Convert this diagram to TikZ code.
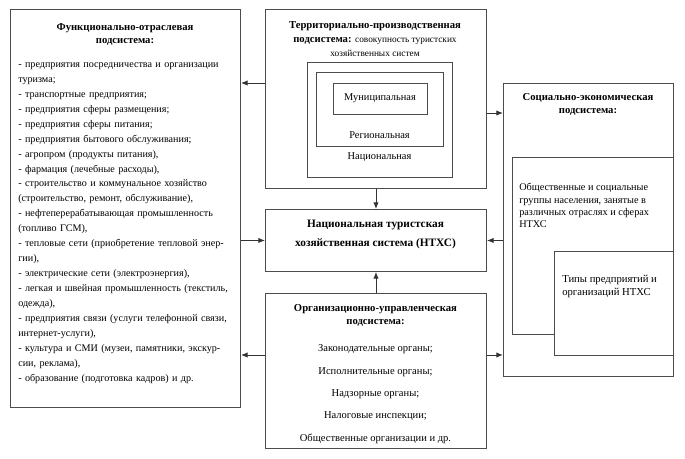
\documentclass[tikz,border=0pt]{standalone}
\usepackage{fontspec}
\setmainfont{Liberation Serif}
\usetikzlibrary{arrows.meta}
\newcommand{\jline}[1]{\leavevmode\hbox to\hsize{#1}}

\begin{document}
\begin{tikzpicture}[x=0.75pt,y=0.75pt,yscale=-1,xscale=1,
  box/.style={draw=black!70, line width=0.7pt, inner sep=0pt, anchor=north west},
  conn/.style={draw=black!80, line width=0.7pt, -{Latex[length=5pt,width=4pt]}},
  head/.style={font=\bfseries\fontsize{8}{9.75}\selectfont, align=center, inner sep=0pt, anchor=base},
  body/.style={font=\fontsize{7.6}{11.2}\selectfont, inner sep=0pt, anchor=base west},
  lvl/.style={font=\fontsize{7.8}{10}\selectfont, inner sep=0pt, anchor=base}]
\useasboundingbox (0,0) rectangle (685,459);

%Shape: Rectangle
\node [box, minimum width=172.5pt, minimum height=298.5pt] (func) at (10,9) {};
%Shape: Rectangle
\node [box, minimum width=165.75pt, minimum height=134.25pt] (terr) at (265,9) {};
%Shape: Rectangle
\node [box, minimum width=108.75pt, minimum height=86.25pt] (nat) at (307,62) {};
%Shape: Rectangle
\node [box, minimum width=95.25pt, minimum height=55.5pt] (reg) at (316,72) {};
%Shape: Rectangle
\node [box, minimum width=70.5pt, minimum height=23.25pt] (mun) at (333,83) {};
%Shape: Rectangle
\node [box, minimum width=165.75pt, minimum height=46.5pt] (ntxs) at (265,209) {};
%Shape: Rectangle
\node [box, minimum width=165.75pt, minimum height=116.25pt] (org) at (265,293) {};
%Shape: Rectangle
\node [box, minimum width=127.5pt, minimum height=219.75pt] (soc) at (503,83) {};
%Shape: Rectangle
\node [box, minimum width=120.75pt, minimum height=132.75pt] (grp) at (512,157) {};
%Shape: Rectangle
\node [box, fill=white, minimum width=89.25pt, minimum height=78pt] (typ) at (554,251) {};

%Straight Lines
\draw [conn] (terr.west |- 0,83) -- (func.east |- 0,83);
%Straight Lines
\draw [conn] (terr.east |- 0,113) -- (soc.west |- 0,113);
%Straight Lines
\draw [conn] (terr.south) -- (ntxs.north);
%Straight Lines
\draw [conn] (func.east |- ntxs.west) -- (ntxs.west);
%Straight Lines
\draw [conn] (soc.west |- ntxs.east) -- (ntxs.east);
%Straight Lines
\draw [conn] (org.north) -- (ntxs.south);
%Straight Lines
\draw [conn] (org.west |- 0,355) -- (func.east |- 0,355);
%Straight Lines
\draw [conn] (org.east |- 0,355) -- (soc.west |- 0,355);

% Text Node
\node [head] (funchead) at (125,43.5) {Функционально-отраслевая\\подсистема:};
% Text Node
\node [body, text width=160.5pt, align=left] (funclist) at (18,67.5) {- предприятия посредничества и организации\\
туризма;\\
- транспортные предприятия;\\
- предприятия сферы размещения;\\
- предприятия сферы питания;\\
- предприятия бытового обслуживания;\\
- агропром (продукты питания),\\
- фармация (лечебные расходы),\\
\jline{- строительство и коммунальное хозяйство}\\
(строительство, ремонт, обслуживание),\\
\jline{- нефтеперерабатывающая промышленность}\\
(топливо ГСМ),\\
\jline{- тепловые сети (приобретение тепловой энер-}\\
гии),\\
- электрические сети (электроэнергия),\\
\jline{- легкая и швейная промышленность (текстиль,}\\
одежда),\\
\jline{- предприятия связи (услуги телефонной связи,}\\
интернет-услуги),\\
\jline{- культура и СМИ (музеи, памятники, экскур-}\\
сии, реклама),\\
- образование (подготовка кадров) и др.};

% Text Node
\node [head, font=\bfseries\fontsize{8}{10.5}\selectfont] (terrhead) at (375,56.5) {Территориально-производственная\\подсистема: {\mdseries\fontsize{7}{10.5}\selectfont совокупность туристских}\\{\mdseries\fontsize{7}{10.5}\selectfont хозяйственных систем}};
% Text Node
\node [lvl] (munlabel) at (380,101) {Муниципальная};
% Text Node
\node [lvl] (reglabel) at (379.5,138.5) {Региональная};
% Text Node
\node [lvl] (natlabel) at (379.5,160) {Национальная};

% Text Node
\node [head, font=\bfseries\fontsize{8.5}{14.25}\selectfont] (ntxslabel) at (375.5,246.5) {Национальная туристская\\хозяйственная система (НТХС)};

% Text Node
\node [head] (orghead) at (375.5,325) {Организационно-управленческая\\подсистема:};
% Text Node
\node [lvl, font=\fontsize{7.9}{16.7}\selectfont, align=center] (orglist) at (375.5,441) {Законодательные органы;\\Исполнительные органы;\\Надзорные органы;\\Налоговые инспекции;\\Общественные организации и др.};

% Text Node
\node [head] (sochead) at (588,114) {Социально-экономическая\\подсистема:};
% Text Node
\node [body, font=\fontsize{7.7}{9.3}\selectfont, align=left] (grplabel) at (519,228) {Общественные и социальные\\группы населения, занятые в\\различных отраслях и сферах\\НТХС};
% Text Node
\node [body, font=\fontsize{8}{10}\selectfont, align=left] (typlabel) at (562,296) {Типы предприятий и\\организаций НТХС};

\end{tikzpicture}
\end{document}
